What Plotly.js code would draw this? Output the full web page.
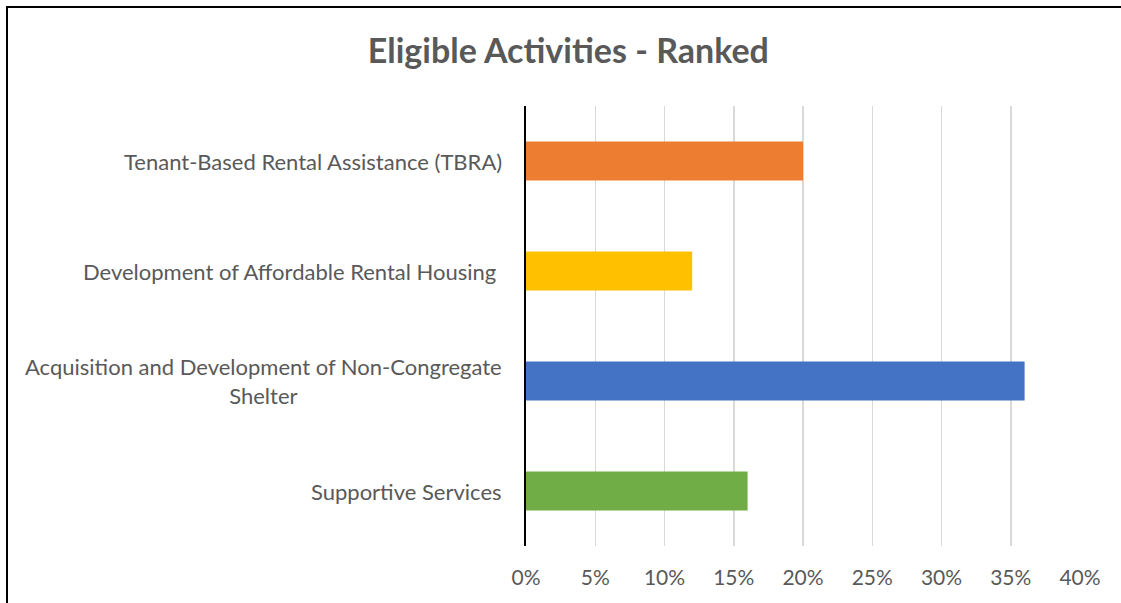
<!DOCTYPE html>
<html>
<head>
<meta charset="utf-8">
<script src="https://cdn.plot.ly/plotly-3.0.1.min.js"></script>
<style>
  html, body { margin: 0; padding: 0; background: #fff; overflow: hidden; }
  #wrap { position: relative; width: 1121px; height: 603px; }
  #chart { position: absolute; left: 0; top: 0; width: 1121px; height: 603px; }
  #frame { position: absolute; left: 6px; top: 6px; width: 1130px; height: 620px;
           border: 2px solid #000; box-sizing: border-box; pointer-events: none; }
</style>
</head>
<body>
<div id="wrap">
  <div id="chart"></div>
  <div id="frame"></div>
</div>
<script>
const categories = [
  "Tenant-Based Rental Assistance (TBRA)",
  "Development of Affordable Rental Housing ",
  "Acquisition and Development of Non-Congregate<br>Shelter",
  "Supportive Services"
];
const values = [0.20, 0.12, 0.36, 0.16];
const barColors = ["#ED7D31", "#FFC000", "#4472C4", "#70AD47"];
const xTickValues = [0, 0.05, 0.10, 0.15, 0.20, 0.25, 0.30, 0.35, 0.40];
const xTickLabels = ["0%", "5%", "10%", "15%", "20%", "25%", "30%", "35%", "40%"];
const chartTitle = "Eligible Activities - Ranked";

const font = "Lato, 'Open Sans', sans-serif";
const gray = "#595959";

const trace = {
  type: "bar",
  orientation: "h",
  x: values,
  y: categories,
  marker: { color: barColors },
  hoverinfo: "none"
};

const annotations = categories.map((c) => ({
  xref: "paper", yref: "y",
  x: 0, y: c,
  xanchor: "right", yanchor: "middle",
  xshift: -22,
  text: c,
  align: "center",
  showarrow: false,
  font: { family: font, size: 22, color: gray }
}));

const layout = {
  width: 1121, height: 603,
  margin: { l: 526, r: 41, t: 106, b: 57 },
  paper_bgcolor: "#fff",
  plot_bgcolor: "#fff",
  title: {
    text: "<b>" + chartTitle + "</b>",
    font: { family: font, size: 34, color: gray },
    x: 0.507, xanchor: "center",
    y: 1 - 51 / 603, yanchor: "middle"
  },
  bargap: 0.645,
  showlegend: false,
  xaxis: {
    range: [0, 0.40],
    tickvals: xTickValues,
    ticktext: xTickLabels,
    showgrid: true,
    gridcolor: "#d9d9d9",
    gridwidth: 1.5,
    zeroline: false,
    showline: false,
    ticks: "",
    tickfont: { family: font, size: 21, color: gray },
    ticklabelstandoff: 17,
    fixedrange: true
  },
  yaxis: {
    autorange: "reversed",
    showticklabels: false,
    ticks: "",
    showgrid: false,
    zeroline: false,
    showline: true,
    linecolor: "#000",
    linewidth: 2,
    fixedrange: true
  },
  annotations: annotations
};

Plotly.newPlot("chart", [trace], layout, { displayModeBar: false, staticPlot: true });
</script>
</body>
</html>
